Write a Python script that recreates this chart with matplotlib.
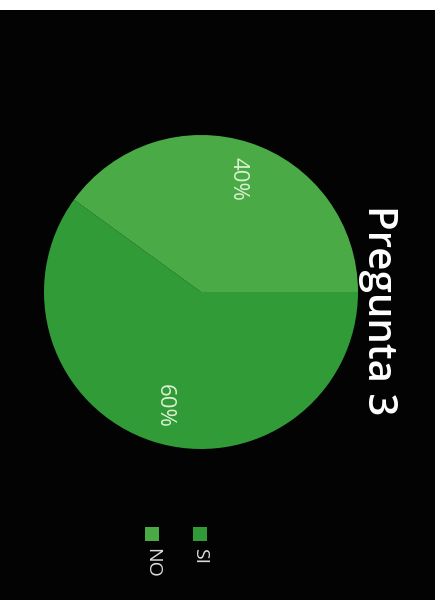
import matplotlib
matplotlib.use("Agg")
import matplotlib.pyplot as plt
from matplotlib.patches import Rectangle

plt.rcParams["font.family"] = ["Open Sans", "DejaVu Sans"]

# survey answers for question 3
labels = ["SI", "NO"]
values = [60, 40]
colors = ["#319b37", "#4aab46"]
title = "Pregunta 3"

W, H = 442, 600


def fx(px):
    return px / W


def fy(py):
    return 1 - py / H


fig = plt.figure(figsize=(W / 100, H / 100), dpi=100, facecolor="white")

# black slide background (the sheet is turned on its side)
fig.patches.append(Rectangle((0, 0), fx(435), fy(10), transform=fig.transFigure,
                             facecolor="#030303", lw=0, zorder=-10))

ax = fig.add_axes([fx(44), fy(449), fx(314), 314 / H])
ax.set_facecolor("none")
ax.set_zorder(2)
wedges, texts, autotexts = ax.pie(
    values, colors=colors, startangle=0, counterclock=False,
    autopct="%d%%", pctdistance=0.76,
    textprops=dict(color="#dcf2d2", fontsize=16),
    wedgeprops=dict(linewidth=0),
)
for t in autotexts:
    t.set_rotation(270)
    t.set_rotation_mode("anchor")
    t.set_ha("center")
    t.set_va("center")
ax.set_xlim(-1, 1)
ax.set_ylim(-1, 1)
ax.set_aspect("equal")
ax.axis("off")

fig.text(fx(378), fy(310), title, rotation=270, color="white", fontsize=29,
         fontweight="semibold", ha="center", va="center", zorder=3)

# legend, stacked sideways like the rest of the slide
leg_x = [200, 152]
for lab, col, x in zip(labels, colors, leg_x):
    fig.patches.append(Rectangle((fx(x - 7), fy(541)), 14 / W, 14 / H,
                                 transform=fig.transFigure, facecolor=col, lw=0, zorder=3))
    fig.text(fx(x), fy(548), lab, rotation=270, color="#dddddd", fontsize=14,
             ha="center", va="top", zorder=3)

fig.savefig("out.png", dpi=100, facecolor=fig.get_facecolor())
